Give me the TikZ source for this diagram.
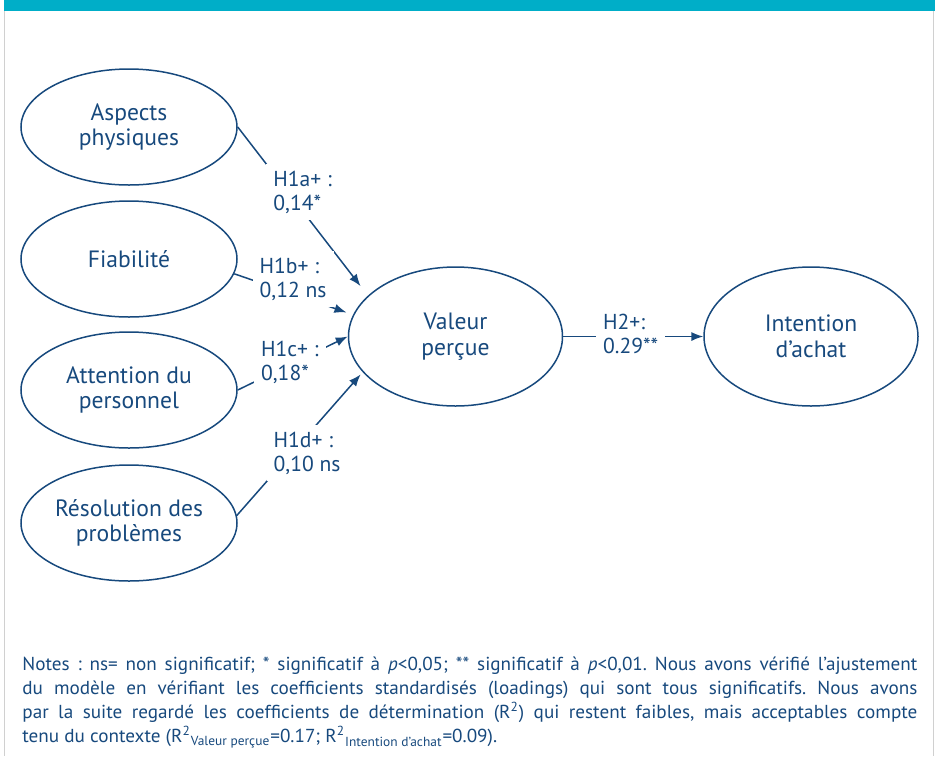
\documentclass[tikz,border=0pt]{standalone}
\usepackage{fontspec}
\setmainfont{PT Sans}
\newfontfamily\notefont[FakeStretch=1.02]{PT Sans}
\usetikzlibrary{arrows.meta,shapes.geometric}

\definecolor{navy}{HTML}{17497D}
\definecolor{barteal}{HTML}{00AEC8}
\definecolor{framegray}{HTML}{D0D0D0}

\begin{document}
\begin{tikzpicture}[
    x=0.5pt, y=-0.5pt, >=Latex,
    construct/.style={draw=navy, text=navy, line width=0.75pt, ellipse,
      inner sep=0pt, minimum width=108pt, minimum height=58pt,
      align=center, font=\fontsize{11.8}{12.8}\selectfont},
    outcome/.style={construct, minimum width=107pt, minimum height=69.5pt},
    hyp/.style={fill=white, text=navy, inner sep=3.5pt, anchor=west,
      align=left, font=\fontsize{10.8}{12}\selectfont},
    link/.style={draw=navy, line width=0.75pt,
      -{Latex[length=6pt,width=4.6pt]}}
  ]
    \useasboundingbox (0,0) rectangle (936,756);
    \draw[framegray, line width=0.75pt] (4.5,0) -- (4.5,756) (933.5,0) -- (933.5,756);
    \fill[barteal] (4,0) rectangle (935,11);

    % constructs
    \foreach \name/\y/\txt in {asp/127/{Aspects\\physiques}, fia/259/{Fiabilité},
                               att/390/{Attention du\\personnel},
                               res/523/{Résolution des\\problèmes}} {
      \node[construct] (\name) at (129,\y) {\txt};
    }
    \node[outcome] (val) at (455.5,336.5) {Valeur\\perçue};
    \node[outcome] (int) at (811,336.5) {Intention\\d’achat};

    % paths
    \draw[link, shorten >=6pt] (asp.east) -- (val.155);
    \draw[link, shorten >=3.5pt] (fia.-8) -- (val.168);
    \draw[link] (att.east) -- (val.west);
    \draw[link, shorten >=1.5pt] (res.4) -- (val.201);
    \draw[link] (val.east) -- (int.west);

    \node[hyp] (h1a) at (266,192) {H1a+ :\\0,14*};
    \node[hyp] (h1b) at (252.3,279) {H1b+ :\\0,12 ns};
    \node[hyp] (h1c) at (253.7,362) {H1c+ :\\0,18*};
    \node[hyp] (h1d) at (266.3,453) {H1d+ :\\0,10 ns};
    \node[hyp] (h2) at (595.7,334) {H2+:\\0.29**};

    \node[text=navy, anchor=north west, inner sep=0pt, text width=447.5pt,
      align=justify, font=\notefont\fontsize{9.4}{12}\selectfont\frenchspacing] (notes) at (22,657)
      {Notes : ns= non significatif; * significatif à \emph{p}<0,05; ** significatif à \emph{p}<0,01. Nous avons vérifié l’ajustement\linebreak
       du modèle en vérifiant les coefficients standardisés (loadings) qui sont tous significatifs. Nous avons\linebreak
       par la suite regardé les coefficients de détermination (R\textsuperscript{2}) qui restent faibles, mais acceptables compte\linebreak
       tenu du contexte (R\textsuperscript{2}\textsubscript{Valeur perçue}=0.17; R\textsuperscript{2}\textsubscript{Intention d’achat}=0.09).};
  \end{tikzpicture}
\end{document}
